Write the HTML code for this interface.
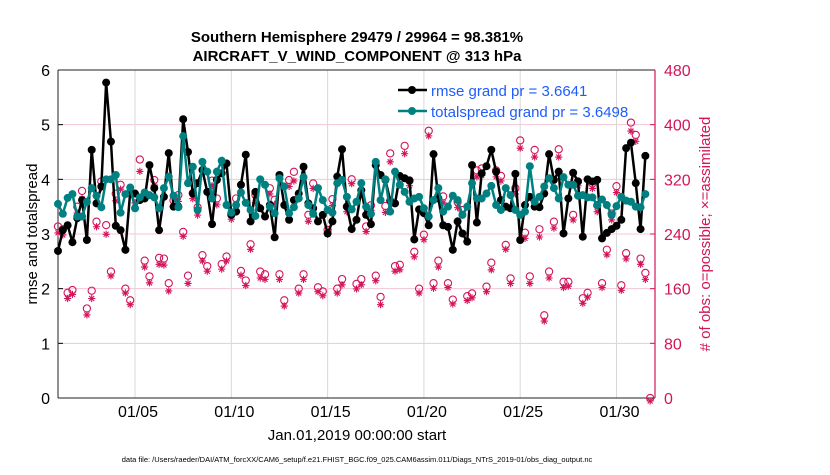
<!DOCTYPE html>
<html><head><meta charset="utf-8"><style>
body{margin:0;background:#fff;width:830px;height:470px;overflow:hidden}
svg{font-family:"Liberation Sans",Arial,sans-serif}
</style></head><body>
<svg id="chart" width="830" height="470" viewBox="0 0 830 470" xmlns="http://www.w3.org/2000/svg">
<text x="357" y="42" font-size="15" font-weight="bold" text-anchor="middle">Southern Hemisphere 29479 / 29964 = 98.381%</text>
<text x="357" y="61" font-size="15" font-weight="bold" text-anchor="middle">AIRCRAFT_V_WIND_COMPONENT @ 313 hPa</text>
<text transform="translate(37,234) rotate(-90)" font-size="15" text-anchor="middle">rmse and totalspread</text>
<text transform="translate(710,234) rotate(-90)" font-size="15" fill="#d4145a" text-anchor="middle"># of obs: o=possible; ×=assimilated</text>
<text x="357" y="440" font-size="15" text-anchor="middle">Jan.01,2019 00:00:00 start</text>
<text x="357" y="462" font-size="7.5" text-anchor="middle">data file: /Users/raeder/DAI/ATM_forcXX/CAM6_setup/f.e21.FHIST_BGC.f09_025.CAM6assim.011/Diags_NTrS_2019-01/obs_diag_output.nc</text>
<g id="grid"></g><g id="axes"></g><g id="marks"></g>
<g>
<line x1="398" y1="90" x2="427" y2="90" stroke="#000" stroke-width="2.5"/><circle cx="412" cy="90" r="4" fill="#000"/>
<text x="431" y="96" font-size="15" fill="#1f5cff">rmse grand pr = 3.6641</text>
<line x1="398" y1="111" x2="427" y2="111" stroke="#008080" stroke-width="2.5"/><circle cx="412" cy="111" r="4" fill="#008080"/>
<text x="431" y="117" font-size="15" fill="#1f5cff">totalspread grand pr = 3.6498</text>
</g>
</svg>
<script>
const rmse=[2.69,3.07,3.16,2.85,3.29,3.62,2.89,4.54,3.56,3.87,5.77,4.69,3.15,3.07,2.71,3.77,3.74,3.62,3.65,4.26,3.84,3.07,3.68,4.48,3.5,3.5,5.1,4.5,3.74,3.93,4.17,3.77,3.18,3.99,4.11,4.29,3.35,3.41,3.9,4.45,3.23,3.77,3.47,3.32,
3.53,2.94,4.08,3.53,3.26,3.62,3.74,4.23,3.56,3.47,3.23,3.35,3.01,3.23,4.05,4.55,3.5,3.09,3.26,3.8,3.35,3.18,4.26,4.08,3.99,3.61,3.56,4.06,4.02,3.98,2.9,3.45,3.38,3.16,4.46,3.65,3.16,
3.13,2.71,3.23,3.01,2.86,4.26,3.21,4.11,4.24,4.54,4.14,3.62,3.5,3.47,4.1,2.89,3.53,3.68,3.5,3.49,3.74,4.46,3.99,4.14,3.01,3.65,4.12,3.96,2.95,4.0,3.96,3.99,2.92,3.02,3.09,3.15,3.26,4.57,4.67,3.93,3.09,4.43];
const spread=[3.55,3.37,3.66,3.73,3.32,3.32,3.59,3.84,3.7,3.49,4.0,4.0,4.08,3.39,3.73,3.85,3.47,3.67,3.76,3.71,3.67,3.47,3.84,4.05,3.7,3.49,4.79,3.93,4.23,3.44,4.32,4.14,3.65,4.14,4.34,3.53,3.39,3.53,3.76,3.57,3.44,3.33,4.0,3.9,
3.5,3.38,4.02,3.87,3.38,3.49,3.65,4.04,3.53,3.37,3.84,3.62,3.44,3.39,3.93,3.99,3.68,3.45,3.59,3.93,3.5,3.37,4.32,3.62,4.0,3.41,4.14,3.9,3.77,3.59,3.65,3.68,3.47,3.32,3.62,3.84,3.41,
3.5,3.7,3.62,3.35,3.5,3.93,3.65,3.65,3.74,3.88,3.53,3.44,3.84,3.71,3.44,3.35,3.41,4.24,3.59,3.68,3.87,4.02,3.84,3.65,4.04,3.9,3.9,3.7,3.71,3.67,3.67,3.53,3.63,3.53,3.35,3.51,3.68,3.61,3.59,3.5,3.49,3.73];
const possible=[251,247,154,158,280,303,131,157,258,317,253,185,299,312,160,143,295,349,201,178,319,205,204,168,289,297,243,179,300,279,209,193,318,292,196,207,269,292,186,172,225,297,185,181,
307,290,181,143,319,331,160,181,268,314,162,156,246,291,160,174,280,320,167,174,251,282,179,148,281,358,193,195,369,318,214,160,239,391,168,201,295,
168,144,287,275,149,153,333,336,163,198,333,325,224,175,307,377,242,178,363,247,121,185,258,364,170,170,268,317,146,154,314,282,168,217,270,310,165,212,403,385,204,183,0];
const assimilated=[246,243,150,156,275,296,126,150,255,312,244,183,293,310,158,141,290,336,196,173,316,200,199,161,284,292,241,172,296,272,205,190,315,287,193,205,266,288,184,169,222,290,180,178,
303,288,178,139,314,322,158,178,263,311,160,154,244,286,158,170,277,318,164,170,248,279,176,141,276,350,190,192,362,315,211,158,236,388,165,196,290,
166,142,283,272,147,151,328,330,160,192,328,322,222,172,303,370,238,172,357,240,117,180,253,357,166,168,265,315,143,152,311,277,166,214,265,305,162,208,395,380,200,178,0];
const yTicks=[0,1,2,3,4,5,6];
const rTicks=[0,80,160,240,320,400,480];
const xTickLabels=["01/05","01/10","01/15","01/20","01/25","01/30"];
const xTickDays=[4,9,14,19,24,29];
const X0=58,X1=655,Y0=398,Y1=70,DAYS=31;
const xs=d=>X0+(d/DAYS)*(X1-X0);
const ys=v=>Y0-(v/6)*(Y0-Y1);
const yr=v=>Y0-(v/480)*(Y0-Y1);
const NS="http://www.w3.org/2000/svg";
function mk(t,a,p){const e=document.createElementNS(NS,t);for(const k in a)e.setAttribute(k,a[k]);p.appendChild(e);return e;}
const grid=document.getElementById('grid'),axes=document.getElementById('axes'),marks=document.getElementById('marks');
yTicks.forEach(v=>{if(v>0&&v<6){const l=mk('line',{x1:X0,x2:X1,y1:ys(v),y2:ys(v),stroke:'#f3c6d8','stroke-width':1},grid);

}
const t=mk('text',{x:X0-8,y:ys(v)+6,'font-size':16,'text-anchor':'end'},axes);t.textContent=v;


mk('line',{x1:X0,x2:X0+5,y1:ys(v),y2:ys(v),stroke:'#000'},axes);});
rTicks.forEach(v=>{const t=mk('text',{x:X1+9,y:yr(v)+6,'font-size':16,fill:'#d4145a'},axes);t.textContent=v;


mk('line',{x1:X1-5,x2:X1,y1:yr(v),y2:yr(v),stroke:'#d4145a'},axes);});
xTickDays.forEach((d,i)=>{const l=mk('line',{x1:xs(d),x2:xs(d),y1:Y1,y2:Y0,stroke:'#d8d8d8'},grid);


const t=mk('text',{x:xs(d)+3,y:Y0+19,'font-size':16,'text-anchor':'middle'},axes);t.textContent=xTickLabels[i];

});
mk('line',{x1:X0,x2:X1,y1:Y1,y2:Y1,stroke:'#222'},axes);
mk('line',{x1:X0,x2:X1,y1:Y0,y2:Y0,stroke:'#222'},axes);
mk('line',{x1:X0,x2:X0,y1:Y1,y2:Y0,stroke:'#222'},axes);
mk('line',{x1:X1,x2:X1,y1:Y1,y2:Y0,stroke:'#d4145a','stroke-width':1.2},axes);
possible.forEach((v,i)=>{const c=mk('circle',{cx:xs(i*0.25),cy:yr(v),r:3.6,fill:'none',stroke:'#d4145a','stroke-width':1.1},marks);

});
assimilated.forEach((v,i)=>{const cx=xs(i*0.25),cy=yr(v)+3,r=3.6;
const d=`M${cx-r},${cy}H${cx+r}M${cx},${cy-r}V${cy+r}M${cx-r*0.7},${cy-r*0.7}L${cx+r*0.7},${cy+r*0.7}M${cx-r*0.7},${cy+r*0.7}L${cx+r*0.7},${cy-r*0.7}`;
const p=mk('path',{d:d,stroke:'#d4145a','stroke-width':1.1,fill:'none'},marks);

});
function series(arr,col,name){const p=mk('polyline',{points:arr.map((v,i)=>xs(i*0.25)+','+ys(v)).join(' '),fill:'none',stroke:col,'stroke-width':2.5},marks);


arr.forEach((v,i)=>{const c=mk('circle',{cx:xs(i*0.25),cy:ys(v),r:4,fill:col},marks);

});}
series(rmse,'#000','rmse');
series(spread,'#008080','totalspread');
</script>
</body></html>
